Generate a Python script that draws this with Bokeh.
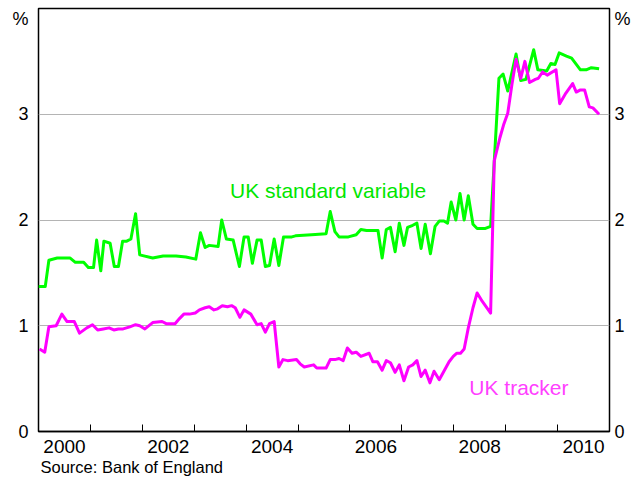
from bokeh.plotting import figure
from bokeh.models import FixedTicker, LinearAxis, Label, Range1d, Title
from bokeh.embed import file_html
from bokeh.resources import INLINE

# UK standard variable rate spread (decimal years, %)
std_dates = [2000.00, 2000.13, 2000.20, 2000.36, 2000.61, 2000.71, 2000.87, 2000.96, 2001.06, 2001.12,
             2001.20, 2001.26, 2001.38, 2001.46, 2001.54, 2001.62, 2001.70, 2001.78, 2001.87, 2001.95,
             2002.20, 2002.40, 2002.65, 2002.84, 2003.03, 2003.12, 2003.21, 2003.29, 2003.46, 2003.53,
             2003.62, 2003.75, 2003.87, 2003.96, 2004.04, 2004.12, 2004.21, 2004.29, 2004.37, 2004.45,
             2004.54, 2004.63, 2004.72, 2004.88, 2004.95, 2005.26, 2005.54, 2005.62, 2005.71, 2005.79,
             2005.97, 2006.12, 2006.21, 2006.32, 2006.54, 2006.62, 2006.70, 2006.78, 2006.87, 2006.95,
             2007.04, 2007.11, 2007.21, 2007.29, 2007.37, 2007.45, 2007.55, 2007.64, 2007.72, 2007.81,
             2007.88, 2007.95, 2008.04, 2008.12, 2008.20, 2008.28, 2008.37, 2008.45, 2008.61, 2008.71,
             2008.87, 2008.95, 2009.04, 2009.20, 2009.29, 2009.39, 2009.54, 2009.62, 2009.79, 2009.87,
             2009.95, 2010.03, 2010.17, 2010.27, 2010.44, 2010.55, 2010.65, 2010.80]
std_values = [1.37, 1.37, 1.62, 1.64, 1.64, 1.60, 1.60, 1.55, 1.55, 1.81,
              1.52, 1.80, 1.78, 1.56, 1.56, 1.80, 1.80, 1.82, 2.06, 1.67,
              1.64, 1.66, 1.66, 1.65, 1.63, 1.88, 1.74, 1.76, 1.75, 2.00,
              1.82, 1.81, 1.56, 1.84, 1.84, 1.59, 1.81, 1.81, 1.56, 1.57,
              1.82, 1.57, 1.84, 1.84, 1.85, 1.86, 1.87, 2.08, 1.89, 1.84,
              1.84, 1.86, 1.91, 1.90, 1.90, 1.64, 1.91, 1.93, 1.70, 1.97,
              1.76, 1.93, 1.95, 1.97, 1.73, 1.96, 1.68, 1.94, 1.99, 1.99,
              1.97, 2.17, 2.00, 2.25, 2.00, 2.23, 1.96, 1.92, 1.92, 1.94,
              3.34, 3.38, 3.22, 3.57, 3.32, 3.33, 3.61, 3.42, 3.41, 3.48,
              3.47, 3.58, 3.55, 3.53, 3.42, 3.42, 3.44, 3.43]

# UK tracker rate spread (decimal years, %)
trk_dates = [2000.02, 2000.12, 2000.20, 2000.34, 2000.45, 2000.55, 2000.69, 2000.79, 2000.93, 2001.04,
             2001.14, 2001.25, 2001.36, 2001.45, 2001.54, 2001.63, 2001.76, 2001.87, 2001.95, 2002.05,
             2002.20, 2002.38, 2002.46, 2002.63, 2002.72, 2002.80, 2002.91, 2003.02, 2003.10, 2003.21,
             2003.29, 2003.38, 2003.45, 2003.54, 2003.64, 2003.72, 2003.79, 2003.88, 2003.96, 2004.09,
             2004.21, 2004.29, 2004.37, 2004.45, 2004.54, 2004.63, 2004.71, 2004.80, 2004.97, 2005.04,
             2005.12, 2005.30, 2005.36, 2005.54, 2005.62, 2005.71, 2005.79, 2005.87, 2005.95, 2006.04,
             2006.12, 2006.21, 2006.37, 2006.44, 2006.53, 2006.62, 2006.70, 2006.78, 2006.87, 2006.95,
             2007.04, 2007.13, 2007.21, 2007.29, 2007.37, 2007.45, 2007.54, 2007.62, 2007.72, 2007.81,
             2007.91, 2007.99, 2008.06, 2008.13, 2008.20, 2008.28, 2008.37, 2008.45, 2008.55, 2008.71,
             2008.78, 2008.89, 2008.96, 2009.04, 2009.12, 2009.20, 2009.29, 2009.37, 2009.46, 2009.57,
             2009.63, 2009.71, 2009.80, 2009.97, 2010.04, 2010.16, 2010.29, 2010.36, 2010.44, 2010.52,
             2010.61, 2010.68, 2010.80]
trk_values = [0.78, 0.75, 0.99, 1.00, 1.11, 1.04, 1.04, 0.93, 0.98, 1.01,
              0.96, 0.97, 0.98, 0.96, 0.97, 0.97, 0.99, 1.01, 1.00, 0.97,
              1.03, 1.04, 1.02, 1.02, 1.07, 1.11, 1.11, 1.12, 1.15, 1.17,
              1.18, 1.15, 1.16, 1.19, 1.18, 1.19, 1.17, 1.08, 1.15, 1.11,
              1.01, 1.02, 0.94, 1.02, 1.04, 0.61, 0.68, 0.67, 0.68, 0.64,
              0.61, 0.63, 0.60, 0.60, 0.68, 0.68, 0.69, 0.67, 0.79, 0.74,
              0.75, 0.71, 0.74, 0.66, 0.66, 0.58, 0.67, 0.65, 0.56, 0.63,
              0.48, 0.61, 0.63, 0.67, 0.52, 0.58, 0.46, 0.57, 0.49, 0.57,
              0.66, 0.71, 0.74, 0.74, 0.78, 0.98, 1.17, 1.31, 1.23, 1.12,
              2.56, 2.78, 2.90, 3.01, 3.28, 3.52, 3.34, 3.50, 3.30, 3.33,
              3.34, 3.40, 3.37, 3.42, 3.10, 3.20, 3.29, 3.21, 3.23, 3.23,
              3.07, 3.06, 3.00]

x_label_years = [2000, 2002, 2004, 2006, 2008, 2010]
x_tick_labels = ["2000", "2002", "2004", "2006", "2008", "2010"]
x_year_marks = [2001, 2002, 2003, 2004, 2005, 2006, 2007, 2008, 2009, 2010]
y_ticks = [0, 1, 2, 3]
y_unit_pos = 3.9
y_unit_label = "%"
y_grid = [1, 2, 3]
source_text = "Source: Bank of England"

FONT = "Liberation Sans"

p = figure(width=633, height=479, output_backend="svg", toolbar_location=None,
           x_range=Range1d(2000, 2011), y_range=Range1d(0, 4),
           min_border_left=38, min_border_right=21, min_border_top=8, min_border_bottom=48)

p.background_fill_color = "white"
p.border_fill_color = "white"
p.outline_line_color = "black"
p.outline_line_width = 1.5
p.outline_line_alpha = 1.0

# grid
p.xgrid.visible = False
p.ygrid.ticker = FixedTicker(ticks=y_grid)
p.ygrid.grid_line_color = "#b4b4b4"
p.ygrid.grid_line_width = 1

# x axis: labels mid-year, tick marks at year boundaries (inside)
xa = p.xaxis[0]
label_pos = [y + 0.5 for y in x_label_years]
xa.ticker = FixedTicker(ticks=label_pos, minor_ticks=x_year_marks)
xa.major_label_overrides = {pos: lab for pos, lab in zip(label_pos, x_tick_labels)}
xa.major_tick_line_color = None
xa.major_tick_in = 0
xa.major_tick_out = 0
xa.minor_tick_line_color = "black"
xa.minor_tick_line_width = 1
xa.minor_tick_in = 7
xa.minor_tick_out = 0
xa.axis_line_color = "black"
xa.axis_line_width = 1.5
xa.major_label_standoff = 8
xa.major_label_text_font = FONT
xa.major_label_text_font_size = "19px"
xa.major_label_text_color = "black"

# source note below the axis
p.add_layout(Title(text=source_text, align="left", offset=2, standoff=0,
                   text_font=FONT, text_font_size="16.5px", text_font_style="normal",
                   text_color="black"), "below")

# y axes
def style_y(ax, standoff):
    ax.ticker = FixedTicker(ticks=y_ticks + [y_unit_pos])
    ax.major_label_overrides = {y_unit_pos: y_unit_label}
    ax.major_tick_line_color = None
    ax.minor_tick_line_color = None
    ax.major_tick_in = 0
    ax.major_tick_out = 0
    ax.axis_line_color = None
    ax.major_label_standoff = standoff
    ax.major_label_text_font = FONT
    ax.major_label_text_font_size = "18px"
    ax.major_label_text_color = "black"

style_y(p.yaxis[0], 10)
ra = LinearAxis()
style_y(ra, 5)
p.add_layout(ra, "right")

# series
p.line(std_dates, std_values, line_color="#00ff00", line_width=3, line_join="round")
p.line(trk_dates, trk_values, line_color="#ff00ff", line_width=3, line_join="round")

# series labels
p.add_layout(Label(x=2003.69, y=2.275, text="UK standard variable", text_color="#00e600",
                   text_font=FONT, text_font_size="21px", text_baseline="alphabetic"))
p.add_layout(Label(x=2008.30, y=0.42, text="UK tracker", text_color="#ff40ff",
                   text_font=FONT, text_font_size="21px", text_baseline="alphabetic"))

open("out.html", "w").write(file_html(p, INLINE))
